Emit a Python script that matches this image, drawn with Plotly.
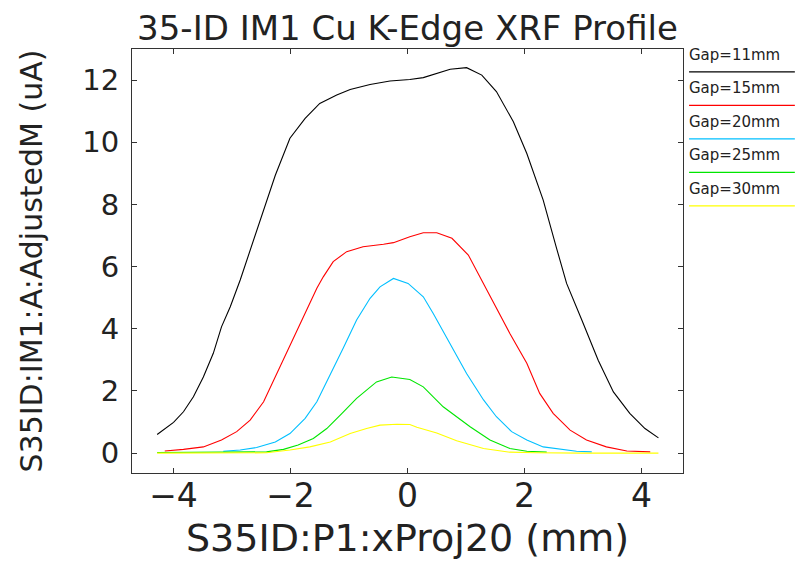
import plotly.graph_objects as go

# ---------------- data ----------------
series_names = ["Gap=11mm", "Gap=15mm", "Gap=20mm", "Gap=25mm", "Gap=30mm"]
series_colors = ["#000000", "#ff0000", "#00bfff", "#00e600", "#ffff00"]

x_gap11 = [-4.28, -4.00, -3.83, -3.66, -3.49, -3.32, -3.18, -3.03, -2.86, -2.69, -2.52, -2.26,
           -2.01, -1.75, -1.50, -1.21, -0.98, -0.64, -0.30, 0.04, 0.27, 0.50, 0.73, 1.01, 1.27,
           1.52, 1.81, 2.04, 2.32, 2.55, 2.72, 2.98, 3.26, 3.52, 3.80, 4.06, 4.29]
y_gap11 = [0.60, 0.99, 1.33, 1.81, 2.45, 3.21, 4.06, 4.71, 5.57, 6.53, 7.50, 8.94,
           10.13, 10.77, 11.25, 11.52, 11.70, 11.86, 11.97, 12.02, 12.08, 12.22, 12.35, 12.40, 12.16,
           11.63, 10.66, 9.64, 8.14, 6.58, 5.46, 4.28, 2.99, 1.97, 1.28, 0.79, 0.49]

x_gap15 = [-4.15, -3.83, -3.49, -3.18, -2.92, -2.69, -2.46, -2.26, -2.06, -1.89, -1.72, -1.55,
           -1.44, -1.27, -1.04, -0.76, -0.41, -0.24, 0.04, 0.27, 0.50, 0.76, 1.04, 1.24, 1.47,
           1.75, 2.04, 2.26, 2.49, 2.78, 3.06, 3.40, 3.75, 4.15]
y_gap15 = [0.07, 0.12, 0.20, 0.42, 0.69, 1.06, 1.65, 2.45, 3.21, 3.90, 4.60, 5.30,
           5.67, 6.16, 6.48, 6.64, 6.72, 6.77, 6.96, 7.09, 7.09, 6.91, 6.37, 5.67, 4.82,
           3.85, 2.89, 1.92, 1.28, 0.74, 0.42, 0.20, 0.07, 0.04]

x_gap20 = [-3.15, -2.86, -2.58, -2.26, -2.01, -1.75, -1.55, -1.32, -1.10, -0.87, -0.64, -0.47,
           -0.24, 0.01, 0.27, 0.44, 0.73, 1.01, 1.30, 1.52, 1.78, 2.04, 2.32, 2.61, 2.89, 3.15]
y_gap20 = [0.06, 0.10, 0.18, 0.36, 0.63, 1.12, 1.65, 2.51, 3.37, 4.28, 4.98, 5.35,
           5.62, 5.46, 5.03, 4.49, 3.53, 2.56, 1.71, 1.17, 0.69, 0.42, 0.20, 0.12, 0.06, 0.04]

x_gap25 = [-4.28, -3.50, -2.80, -2.41, -2.12, -1.87, -1.61, -1.38, -1.12, -0.87, -0.53, -0.27,
           0.04, 0.27, 0.61, 1.07, 1.41, 1.75, 2.04, 2.38]
y_gap25 = [0.02, 0.02, 0.03, 0.04, 0.12, 0.26, 0.47, 0.79, 1.28, 1.76, 2.29, 2.45,
           2.37, 2.13, 1.49, 0.85, 0.42, 0.15, 0.06, 0.03]

x_gap30 = [-4.28, -3.50, -2.80, -2.41, -2.01, -1.67, -1.32, -0.98, -0.70, -0.47, -0.18, 0.04,
           0.16, 0.50, 0.84, 1.30, 1.75, 2.20, 3.00, 3.80, 4.29]
y_gap30 = [0.00, 0.00, 0.00, 0.01, 0.10, 0.20, 0.36, 0.63, 0.79, 0.90, 0.93, 0.92,
           0.83, 0.65, 0.40, 0.15, 0.03, 0.01, 0.00, 0.00, 0.00]

x_tickvals = [-4, -2, 0, 2, 4]
y_tickvals = [0, 2, 4, 6, 8, 10, 12]

title_text = "35-ID IM1 Cu K-Edge XRF Profile"
x_title = "S35ID:P1:xProj20 (mm)"
y_title = "S35ID:IM1:A:AdjustedM (uA)"

xs = [x_gap11, x_gap15, x_gap20, x_gap25, x_gap30]
ys = [y_gap11, y_gap15, y_gap20, y_gap25, y_gap30]

# ---------------- figure ----------------
FONT = "DejaVu Sans, Liberation Sans, sans-serif"
TXT = "#222222"
fig = go.Figure()
for name, color, xv, yv in zip(series_names, series_colors, xs, ys):
    fig.add_trace(go.Scatter(x=xv, y=yv, mode="lines", name=name,
                             line=dict(color=color, width=1.1), showlegend=False))

# custom legend to the right of the plot (text with a coloured line beneath)
for i, (name, color) in enumerate(zip(series_names, series_colors)):
    y_text = 0.986 - i * 0.079
    y_line = 0.946 - i * 0.079
    fig.add_annotation(x=1.011, y=y_text, xref="paper", yref="paper", text=name,
                       showarrow=False, xanchor="left", yanchor="middle", xshift=-2,
                       font=dict(family=FONT, size=15, color=TXT))
    fig.add_shape(type="line", xref="paper", yref="paper", x0=1.011, x1=1.203,
                  y0=y_line, y1=y_line, line=dict(color=color, width=1.2))

axis_common = dict(showline=True, linecolor="#333333", linewidth=1, mirror="ticks",
                   ticks="inside", ticklen=5, tickcolor="#333333", tickwidth=1,
                   showgrid=False, zeroline=False, automargin=False)

fig.update_layout(
    width=804, height=563,
    margin=dict(l=124, r=129, t=41, b=98, autoexpand=False),
    paper_bgcolor="white", plot_bgcolor="white",
    title=dict(text=title_text, x=0.5, xref="paper", y=0.9643, yref="container",
               xanchor="center", yanchor="middle",
               font=dict(family=FONT, size=34, color=TXT)),
    xaxis=dict(range=[-4.71, 4.71], tickvals=x_tickvals, ticklabelstandoff=-7,
               tickfont=dict(family=FONT, size=33, color=TXT),
               title=dict(text=x_title, standoff=10,
                          font=dict(family=FONT, size=38, color=TXT)),
               **axis_common),
    yaxis=dict(range=[-0.64, 13.0], tickvals=y_tickvals, ticklabelstandoff=6,
               tickfont=dict(family=FONT, size=29, color=TXT),
               title=dict(text=y_title, standoff=30,
                          font=dict(family=FONT, size=30, color=TXT)),
               **axis_common),
)

fig.write_html("out.html")
